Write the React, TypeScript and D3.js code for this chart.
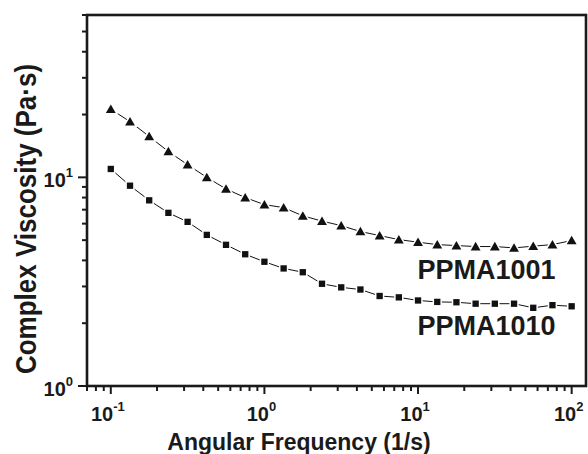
import React from "react";
import * as d3 from "d3";

const frequency = [0.1, 0.1334, 0.1778, 0.2371, 0.3162, 0.4217, 0.5623, 0.7499, 1, 1.334, 1.778, 2.371, 3.162, 4.217, 5.623, 7.499, 10, 13.34, 17.78, 23.71, 31.62, 42.17, 56.23, 74.99, 100];
const ppma1001 = [21.2, 18.5, 15.7, 13.3, 11.5, 10.0, 8.8, 8.0, 7.4, 7.16, 6.54, 6.17, 5.87, 5.5, 5.26, 5.03, 4.89, 4.76, 4.71, 4.66, 4.66, 4.59, 4.68, 4.76, 4.98];
const ppma1010 = [10.97, 9.12, 7.76, 6.76, 6.12, 5.3, 4.75, 4.28, 3.94, 3.66, 3.51, 3.09, 2.97, 2.9, 2.7, 2.66, 2.57, 2.53, 2.52, 2.48, 2.48, 2.48, 2.37, 2.44, 2.41];
const xMajorTicks = [0.1, 1, 10, 100];
const xMajorExp = ["-1", "0", "1", "2"];
const yMajorTicks = [1, 10];
const yMajorExp = ["0", "1"];
const seriesLabels = ["PPMA1001", "PPMA1010"];

const W = 588, H = 454;
const L = 87, R = 586, T = 15, B = 386;
const FONT = "'Liberation Sans', Arial, sans-serif";

export default function App() {
  const x = d3.scaleLog().domain([0.07, 124]).range([L, R]);
  const y = d3.scaleLog().domain([1, 60]).range([B, T]);

  const xMinor: number[] = [];
  for (const dec of [0.01, 0.1, 1, 10]) for (let k = 2; k <= 9; k++) { const v = dec * k; if (v >= 0.07 && v <= 124) xMinor.push(v); }
  const yMinor: number[] = [];
  for (const dec of [1, 10]) for (let k = 2; k <= 9; k++) { const v = dec * k; if (v <= 60) yMinor.push(v); }

  const line = d3.line<number>().x((_, i) => x(frequency[i])).y((d) => y(d));
  const tri = d3.symbol().type(d3.symbolTriangle).size(42)();
  const sq = d3.symbol().type(d3.symbolSquare).size(40)();

  return (
    <svg width={W} height={H} style={{ position: "absolute", left: 0, top: 0, background: "#fff" }} fontFamily={FONT}>
      <rect x={0} y={0} width={W} height={H} fill="#fff" />
      {/* lines */}
      <path d={line(ppma1001) || ""} fill="none" stroke="#111" strokeWidth={1} />
      <path d={line(ppma1010) || ""} fill="none" stroke="#111" strokeWidth={1} />
      {ppma1001.map((v, i) => (
        <path key={"t" + i} d={tri || ""} transform={`translate(${x(frequency[i])},${y(v) + 1})`} fill="#111" stroke="#fff" strokeWidth={3} style={{ paintOrder: "stroke" }} />
      ))}
      {ppma1010.map((v, i) => (
        <path key={"s" + i} d={sq || ""} transform={`translate(${x(frequency[i])},${y(v)})`} fill="#111" stroke="#fff" strokeWidth={3} style={{ paintOrder: "stroke" }} />
      ))}
      {/* frame */}
      <rect x={L} y={T} width={R - L} height={B - T} fill="none" stroke="#1a1a1a" strokeWidth={2.6} />
      {/* x ticks */}
      {xMajorTicks.map((v) => (
        <line key={"xm" + v} x1={x(v)} x2={x(v)} y1={B} y2={B + 8} stroke="#1a1a1a" strokeWidth={2} />
      ))}
      {xMinor.map((v) => (
        <line key={"xn" + v} x1={x(v)} x2={x(v)} y1={B} y2={B + 5} stroke="#1a1a1a" strokeWidth={2} />
      ))}
      {xMajorTicks.map((v, i) => (
        <text key={"xl" + v} x={x(v) - 3} y={421} textAnchor="middle" fontSize={20} fontWeight="bold" fill="#1a1a1a">
          10<tspan fontSize={13} dy={-10}>{xMajorExp[i]}</tspan>
        </text>
      ))}
      {/* y ticks */}
      {yMajorTicks.map((v) => (
        <line key={"ym" + v} x1={L - 9} x2={L} y1={y(v)} y2={y(v)} stroke="#1a1a1a" strokeWidth={2} />
      ))}
      {yMinor.map((v) => (
        <line key={"yn" + v} x1={L - 5} x2={L} y1={y(v)} y2={y(v)} stroke="#1a1a1a" strokeWidth={2} />
      ))}
      {yMajorTicks.map((v, i) => (
        <text key={"yl" + v} x={73} y={y(v) + 9.5} textAnchor="end" fontSize={20} fontWeight="bold" fill="#1a1a1a">
          10<tspan fontSize={13} dy={-10}>{yMajorExp[i]}</tspan>
        </text>
      ))}
      {/* titles */}
      <text x={299} y={450} textAnchor="middle" fontSize={23} fontWeight="bold" fill="#1a1a1a">Angular Frequency (1/s)</text>
      <text transform={`translate(36,219) rotate(-90) scale(1,1.1)`} textAnchor="middle" fontSize={26} fontWeight="bold" fill="#1a1a1a">Complex Viscosity (Pa·s)</text>
      {/* series labels */}
      <text x={417.5} y={278.5} fontSize={27} fontWeight="bold" fill="#1a1a1a">{seriesLabels[0]}</text>
      <text x={417.5} y={335} fontSize={27} fontWeight="bold" fill="#1a1a1a">{seriesLabels[1]}</text>
    </svg>
  );
}
